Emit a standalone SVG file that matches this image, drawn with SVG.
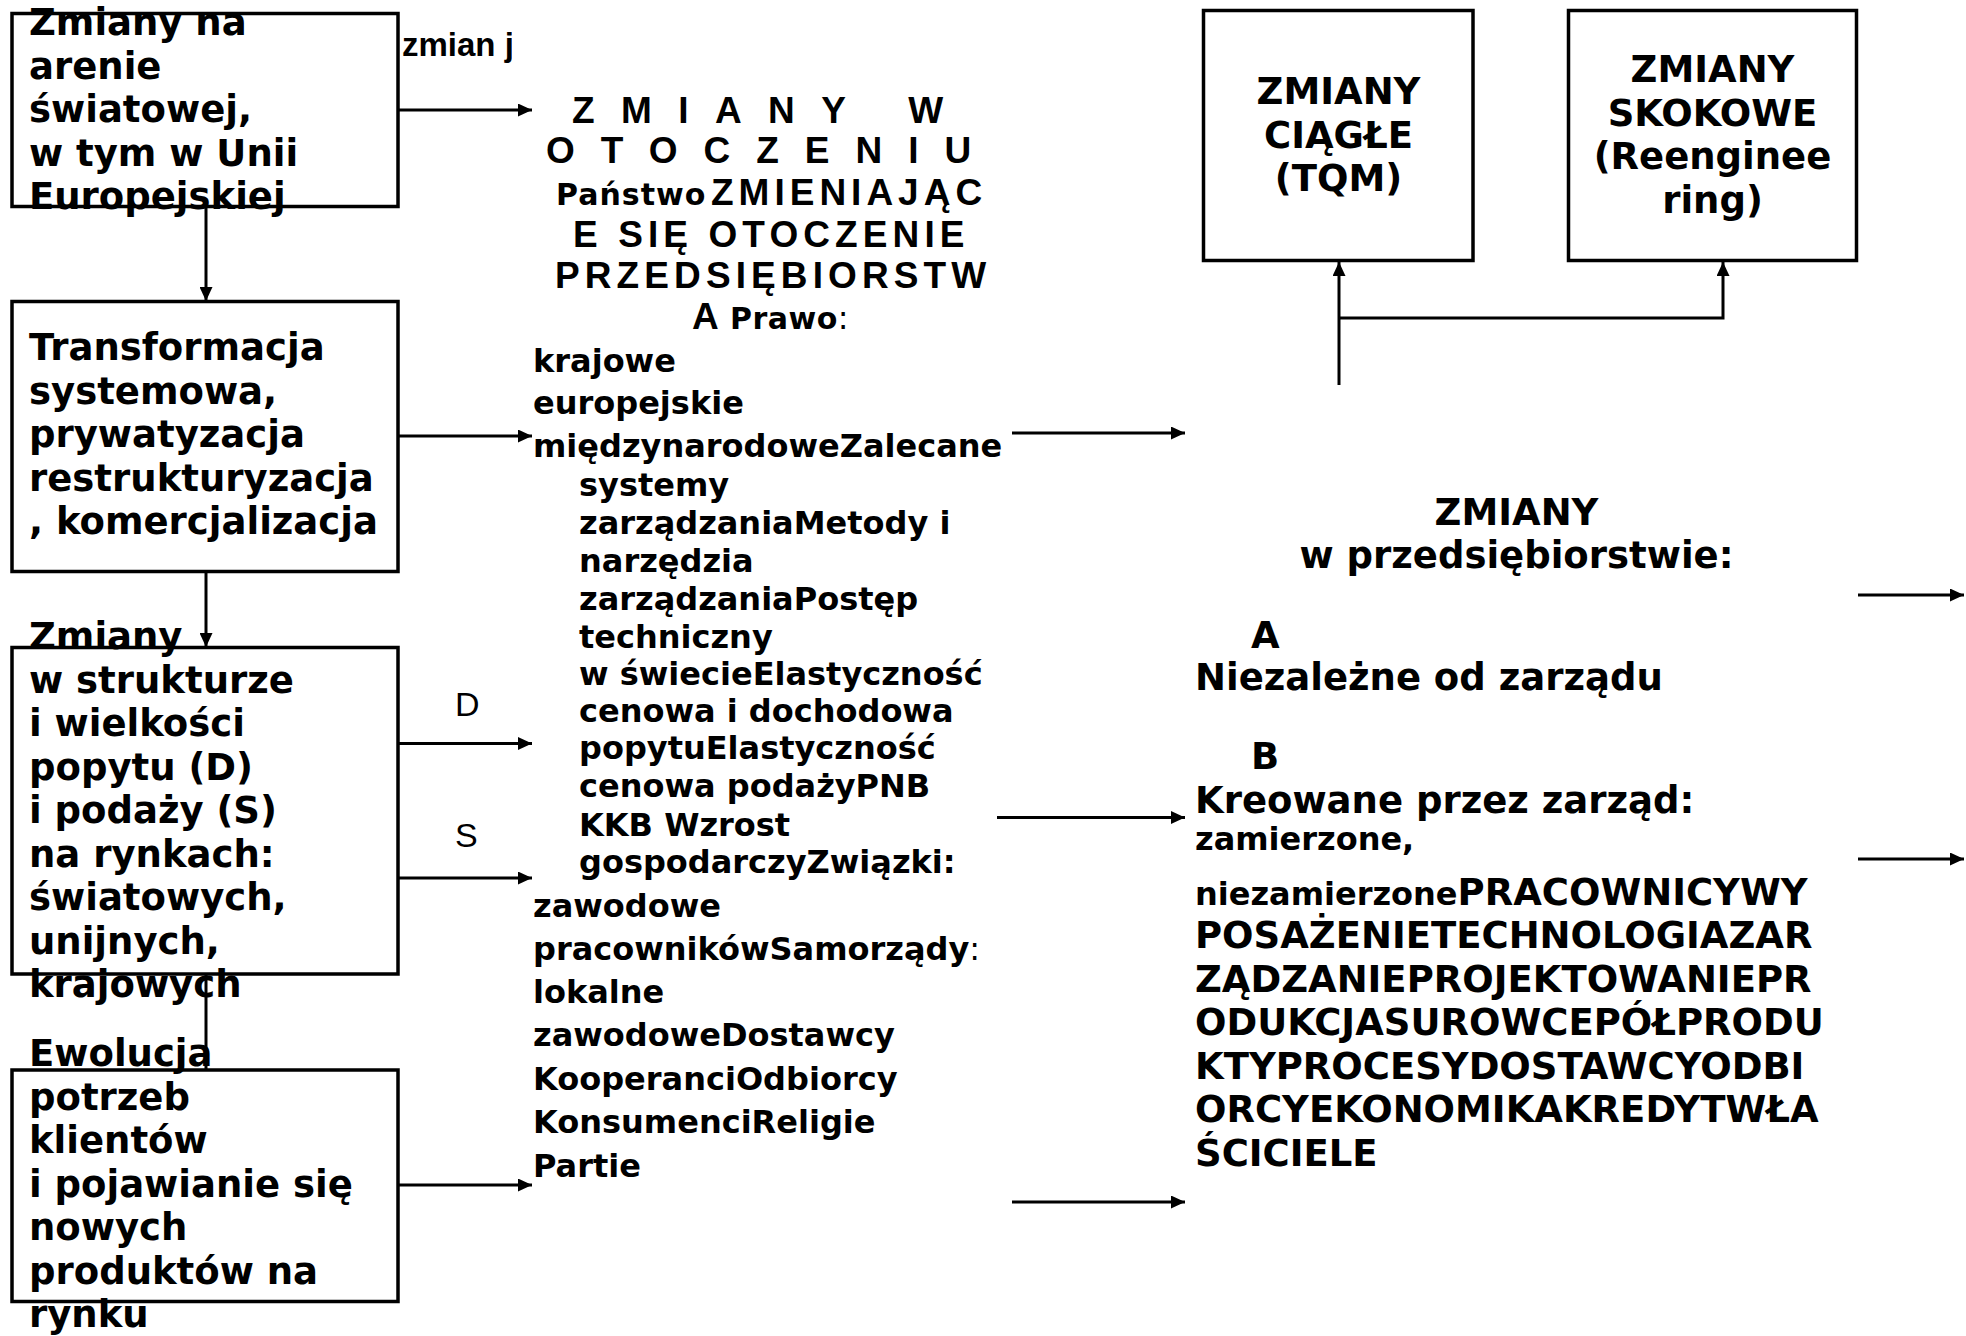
<svg xmlns="http://www.w3.org/2000/svg" width="1966" height="1336" viewBox="0 0 1966 1336">
<style>
.box{fill:none;stroke:#000;stroke-width:3.5}
.b{font-family:"DejaVu Sans",sans-serif;font-weight:bold;font-size:37px;fill:#000}
.s{font-family:"DejaVu Sans",sans-serif;font-weight:bold;font-size:32px;fill:#000}
.sm{font-family:"DejaVu Sans",sans-serif;font-weight:bold;font-size:30px;fill:#000}
.ar{font-family:"Liberation Sans",Arial,sans-serif;font-weight:bold;font-size:37px;fill:#000}
.lbl{font-family:"Liberation Sans",Arial,sans-serif;font-size:34px;fill:#000}
.cn{fill:none;stroke:#000;stroke-width:3}
.reg{font-weight:normal}
</style>
<defs>
<marker id="ah" viewBox="0 0 14 13" refX="14" refY="6.5" markerWidth="14" markerHeight="13" markerUnits="userSpaceOnUse" orient="auto">
<path d="M0,0 L14,6.5 L0,13 z" fill="#000"/>
</marker>
<clipPath id="clipz"><rect x="399" y="15" width="113" height="60"/></clipPath>
</defs>
<rect width="1966" height="1336" fill="#fff"/>

<g id="connectors">
<path class="cn" d="M398,110 H532" marker-end="url(#ah)"/>
<path class="cn" d="M206,207 V301" marker-end="url(#ah)"/>
<path class="cn" d="M398,436 H532" marker-end="url(#ah)"/>
<path class="cn" d="M206,572 V647" marker-end="url(#ah)"/>
<path class="cn" d="M398,743.5 H532" marker-end="url(#ah)"/>
<path class="cn" d="M398,878 H532" marker-end="url(#ah)"/>
<path class="cn" d="M206,974 V1070"/>
<path class="cn" d="M398,1185 H532" marker-end="url(#ah)"/>
<path class="cn" d="M1012,433 H1185" marker-end="url(#ah)"/>
<path class="cn" d="M997,817.5 H1185" marker-end="url(#ah)"/>
<path class="cn" d="M1012,1202 H1185" marker-end="url(#ah)"/>
<path class="cn" d="M1339,385 V262" marker-end="url(#ah)"/>
<path class="cn" d="M1339,318 H1723 V262" marker-end="url(#ah)"/>
<path class="cn" d="M1858,595 H1964" marker-end="url(#ah)"/>
<path class="cn" d="M1858,859 H1964" marker-end="url(#ah)"/>
<text class="ar" x="402" y="56" style="font-size:33px" clip-path="url(#clipz)">zmian j</text>
<text class="lbl" x="455" y="716">D</text>
<text class="lbl" x="455" y="847">S</text>
</g>

<g id="box1">
<rect class="box" x="12" y="13.5" width="386" height="193"/>
<text class="b"><tspan x="29" y="35">Zmiany na</tspan><tspan x="29" y="78.5">arenie</tspan><tspan x="29" y="122">światowej,</tspan><tspan x="29" y="165.5">w tym w Unii</tspan><tspan x="29" y="209">Europejskiej</tspan></text>
</g>

<g id="box2">
<rect class="box" x="12" y="301.5" width="386" height="270"/>
<text class="b"><tspan x="29" y="360">Transformacja</tspan><tspan x="29" y="403.5">systemowa,</tspan><tspan x="29" y="447">prywatyzacja</tspan><tspan x="29" y="490.5">restrukturyzacja</tspan><tspan x="29" y="534">, komercjalizacja</tspan></text>
</g>

<g id="box3">
<rect class="box" x="12" y="647.5" width="386" height="326.5"/>
<text class="b"><tspan x="29" y="649">Zmiany</tspan><tspan x="29" y="692.5">w strukturze</tspan><tspan x="29" y="736">i wielkości</tspan><tspan x="29" y="779.5">popytu (D)</tspan><tspan x="29" y="823">i podaży (S)</tspan><tspan x="29" y="866.5">na rynkach:</tspan><tspan x="29" y="910">światowych,</tspan><tspan x="29" y="953.5">unijnych,</tspan><tspan x="29" y="997">krajowych</tspan></text>
</g>

<g id="box4">
<rect class="box" x="12" y="1070" width="386" height="231.5"/>
<text class="b"><tspan x="29" y="1066">Ewolucja</tspan><tspan x="29" y="1109.5">potrzeb</tspan><tspan x="29" y="1153">klientów</tspan><tspan x="29" y="1196.5">i pojawianie się</tspan><tspan x="29" y="1240">nowych</tspan><tspan x="29" y="1283.5">produktów na</tspan><tspan x="29" y="1327">rynku</tspan></text>
</g>

<g id="otoczenie">
<text class="ar" x="572" y="123" letter-spacing="26.4">ZMIANY W</text>
<text class="ar" x="546" y="163" letter-spacing="26">OTOCZENIU</text>
<text y="205"><tspan class="sm" x="556" letter-spacing="1">Państwo</tspan><tspan class="ar" x="711" letter-spacing="5">ZMIENIAJĄC</tspan></text>
<text class="ar" x="573" y="247" letter-spacing="5.1">E SIĘ OTOCZENIE</text>
<text class="ar" x="555" y="288" letter-spacing="5.1">PRZEDSIĘBIORSTW</text>
<text y="329"><tspan class="ar" x="692">A</tspan><tspan class="sm" x="730" letter-spacing="0.5">Prawo</tspan><tspan class="s reg">:</tspan></text>
<text class="s">
<tspan x="533" y="372">krajowe</tspan>
<tspan x="533" y="414">europejskie</tspan>
<tspan x="533" y="457">międzynarodoweZalecane</tspan>
<tspan x="579" y="496">systemy</tspan>
<tspan x="579" y="534">zarządzaniaMetody i</tspan>
<tspan x="579" y="572">narzędzia</tspan>
<tspan x="579" y="610">zarządzaniaPostęp</tspan>
<tspan x="579" y="648">techniczny</tspan>
<tspan x="579" y="685">w świecieElastyczność</tspan>
<tspan x="579" y="722">cenowa i dochodowa</tspan>
<tspan x="579" y="759">popytuElastyczność</tspan>
<tspan x="579" y="797">cenowa podażyPNB</tspan>
<tspan x="579" y="836">KKB Wzrost</tspan>
<tspan x="579" y="873">gospodarczyZwiązki:</tspan>
<tspan x="533" y="917">zawodowe</tspan>
<tspan x="533" y="960">pracownikówSamorządy<tspan class="reg">:</tspan></tspan>
<tspan x="533" y="1003">lokalne</tspan>
<tspan x="533" y="1046">zawodoweDostawcy</tspan>
<tspan x="533" y="1090">KooperanciOdbiorcy</tspan>
<tspan x="533" y="1133">KonsumenciReligie</tspan>
<tspan x="533" y="1177">Partie</tspan>
</text>
</g>

<g id="box5">
<rect class="box" x="1203.5" y="10.5" width="269.5" height="250"/>
<text class="b" text-anchor="middle"><tspan x="1338.5" y="104">ZMIANY</tspan><tspan x="1338.5" y="147.5">CIĄGŁE</tspan><tspan x="1338.5" y="191">(TQM)</tspan></text>
</g>

<g id="box6">
<rect class="box" x="1568.5" y="10.5" width="288" height="250"/>
<text class="b" text-anchor="middle"><tspan x="1712.5" y="82">ZMIANY</tspan><tspan x="1712.5" y="125.5">SKOKOWE</tspan><tspan x="1712.5" y="169">(Reenginee</tspan><tspan x="1712.5" y="212.5">ring)</tspan></text>
</g>

<g id="przedsiebiorstwo">
<text class="b" text-anchor="middle"><tspan x="1516.5" y="525">ZMIANY</tspan><tspan x="1516.5" y="568">w przedsiębiorstwie:</tspan></text>
<text class="b"><tspan x="1251" y="648">A</tspan><tspan x="1195" y="690">Niezależne od zarządu</tspan><tspan x="1251" y="769">B</tspan><tspan x="1195" y="813">Kreowane przez zarząd:</tspan></text>
<text class="s" x="1195" y="850">zamierzone,</text>
<text x="1195" y="905"><tspan class="s">niezamierzone</tspan><tspan class="b">PRACOWNICYWY</tspan></text>
<text class="b"><tspan x="1195" y="948">POSAŻENIETECHNOLOGIAZAR</tspan><tspan x="1195" y="991.5">ZĄDZANIEPROJEKTOWANIEPR</tspan><tspan x="1195" y="1035">ODUKCJASUROWCEPÓŁPRODU</tspan><tspan x="1195" y="1078.5">KTYPROCESYDOSTAWCYODBI</tspan><tspan x="1195" y="1122">ORCYEKONOMIKAKREDYTWŁA</tspan><tspan x="1195" y="1165.5">ŚCICIELE</tspan></text>
</g>
</svg>
